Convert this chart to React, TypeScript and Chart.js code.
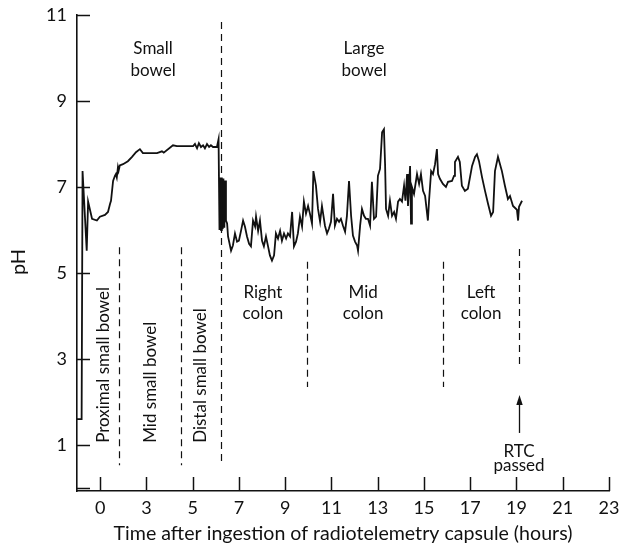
import React, { useEffect, useRef } from "react";
import { Chart, registerables } from "chart.js";

Chart.register(...registerables);

// ---- data (hours after ingestion on a linear axis, pH) ----
const phHours = [
  0.0, 0.2, 0.24, 0.42, 0.48, 0.65, 0.86, 0.99, 1.21, 1.34, 1.43, 1.47, 1.56, 1.64, 1.68, 1.72, 1.77, 1.8, 1.85,
  1.99, 2.2, 2.38, 2.55, 2.72, 2.85, 3.37, 3.46, 3.67, 3.75, 4.15, 4.32, 5.02, 5.1, 5.19, 5.27, 5.36, 5.45, 5.53,
  5.62, 5.71, 5.79, 5.88, 6.05, 6.12, 6.16, 6.2, 6.23, 6.26, 6.3, 6.33, 6.37, 6.4, 6.44, 6.49, 6.53, 6.66, 6.74,
  6.83, 6.92, 7.0, 7.09, 7.18, 7.26, 7.35, 7.44, 7.52, 7.61, 7.7, 7.74, 7.83, 7.91, 8.0, 8.08, 8.17, 8.26, 8.34,
  8.43, 8.52, 8.6, 8.69, 8.78, 8.86, 8.95, 9.04, 9.12, 9.21, 9.3, 9.38, 9.47, 9.55, 9.64, 9.73, 9.81, 9.9, 9.99,
  10.07, 10.16, 10.22, 10.33, 10.42, 10.51, 10.59, 10.72, 10.81, 10.89, 10.98, 11.07, 11.15, 11.24, 11.33, 11.41,
  11.5, 11.59, 11.67, 11.76, 11.85, 11.93, 12.02, 12.11, 12.15, 12.24, 12.32, 12.41, 12.49, 12.58, 12.67, 12.75,
  12.84, 12.93, 13.01, 13.1, 13.19, 13.27, 13.32, 13.36, 13.45, 13.53, 13.62, 13.71, 13.79, 13.88, 13.96, 14.05,
  14.14, 14.2, 14.27, 14.31, 14.4, 14.44, 14.48, 14.57, 14.7, 14.79, 14.87, 14.96, 15.05, 15.17, 15.22, 15.31,
  15.39, 15.48, 15.56, 15.61, 15.69, 15.82, 15.95, 16.04, 16.21, 16.3, 16.34, 16.47, 16.55, 16.64, 16.77, 16.9,
  17.08, 17.21, 17.29, 17.38, 17.51, 17.64, 17.77, 17.9, 17.99, 18.07, 18.2, 18.37, 18.5, 18.63, 18.72, 18.85,
  19.02, 19.07, 19.11, 19.24,
];
const phValues = [
  1.6, 1.6, 7.37, 5.52, 6.66, 6.26, 6.22, 6.31, 6.35, 6.42, 6.61, 6.68, 7.14, 7.26, 7.3, 7.22, 7.46, 7.38, 7.5,
  7.53, 7.6, 7.7, 7.81, 7.88, 7.79, 7.79, 7.79, 7.83, 7.8, 7.97, 7.95, 7.95, 8.0, 7.9, 8.02, 7.93, 7.97, 7.9,
  8.0, 7.93, 7.97, 7.93, 7.93, 8.11, 6.0, 7.22, 6.0, 7.22, 6.02, 7.2, 6.05, 7.15, 6.22, 6.15, 5.85, 5.52, 5.64,
  5.92, 5.73, 5.75, 5.98, 6.22, 6.08, 5.85, 5.68, 5.62, 6.22, 6.08, 6.31, 5.98, 6.22, 5.75, 5.62, 5.85, 5.62, 5.41,
  5.29, 5.41, 5.92, 5.8, 5.98, 5.75, 5.92, 5.8, 5.92, 5.85, 6.42, 5.62, 5.73, 5.92, 6.31, 6.08, 6.66, 6.38, 6.56,
  6.38, 6.15, 7.37, 7.03, 6.49, 6.19, 6.56, 6.1, 5.92, 6.03, 6.19, 6.84, 6.1, 6.26, 6.19, 6.26,
  6.1, 5.96, 6.33, 7.14, 6.33, 5.87, 5.73, 5.64, 5.52, 6.1, 6.49, 6.33, 6.26, 6.26, 6.1, 7.12,
  6.26, 6.31, 7.26, 7.42, 8.27, 8.34, 7.51, 6.49, 6.33, 6.68, 6.33, 6.42, 6.26, 6.66, 6.72, 6.66,
  7.03, 6.68, 7.3, 6.56, 7.49, 6.15, 7.0, 6.84, 7.3, 7.07, 7.3, 6.91, 6.79, 6.22, 6.68, 7.37,
  7.3, 7.53, 7.88, 7.3, 7.19, 7.07, 7.0, 7.12, 7.14, 7.26, 7.58, 7.7, 7.58, 7.03, 6.91, 6.96,
  7.49, 7.7, 7.76, 7.6, 7.23, 6.91, 6.61, 6.33, 6.42, 7.37, 7.7, 7.37, 7.03, 6.72, 6.79, 6.56,
  6.47, 6.22, 6.54, 6.68,
];

const xTickValues = [1, 3, 5, 7, 9, 11, 13, 15, 17, 19, 21, 23];
const xTickLabels = ["0", "3", "5", "7", "9", "11", "13", "15", "17", "19", "21", "23"];
const yTickValues = [0, 1, 3, 5, 7, 9, 11];
const yTickLabels = ["", "1", "3", "5", "7", "9", "11"];

const xTitle = "Time after ingestion of radiotelemetry capsule (hours)";
const yTitle = "pH";

// ---- annotations (data units) ----
const dividerHours = [1.82, 4.5, 6.23, 9.94, 15.82, 19.13];
const dividerTops = [5.6, 5.6, 10.84, 5.26, 5.26, 5.56];
const dividerBottoms = [0.53, 0.53, 0.53, 2.35, 2.35, 2.79];

const regionTexts = ["Small", "bowel", "Large", "bowel", "Right", "colon", "Mid", "colon", "Left", "colon", "RTC", "passed"];
const regionTextHours = [3.29, 3.29, 12.41, 12.41, 8.04, 8.04, 12.37, 12.37, 17.47, 17.47, 19.11, 19.11];
const regionTextPh = [10.09, 9.58, 10.09, 9.58, 4.42, 3.93, 4.42, 3.93, 4.42, 3.93, 0.72, 0.4];

const segmentTexts = ["Proximal small bowel", "Mid small bowel", "Distal small bowel"];
const segmentTextHours = [1.14, 3.16, 5.32];
const segmentTextStartPh = 1.05;

const arrowHour = 19.13;
const arrowFromPh = 1.28;
const arrowToPh = 2.16;

const FONT = "Lato, 'Noto Sans', sans-serif";
const INK = "#111";

const overlay = {
  id: "overlay",
  afterDatasetsDraw(chart: any) {
    const { ctx, chartArea } = chart;
    const x = chart.scales.x;
    const y = chart.scales.y;
    ctx.save();
    ctx.strokeStyle = INK;
    ctx.fillStyle = INK;
    ctx.lineWidth = 1.5;
    // inward tick marks
    x.ticks.forEach((t: any) => {
      const px = Math.round(x.getPixelForValue(t.value)) + 0.5;
      ctx.beginPath();
      ctx.moveTo(px, chartArea.bottom);
      ctx.lineTo(px, chartArea.bottom - 14);
      ctx.stroke();
    });
    y.ticks.forEach((t: any) => {
      const py = Math.round(y.getPixelForValue(t.value)) + 0.5;
      ctx.beginPath();
      ctx.moveTo(chartArea.left, py);
      ctx.lineTo(chartArea.left + 13, py);
      ctx.stroke();
    });
    // dashed dividers
    ctx.lineWidth = 1.2;
    ctx.setLineDash([7, 5]);
    dividerHours.forEach((h, i) => {
      const px = Math.round(x.getPixelForValue(h)) + 0.5;
      ctx.beginPath();
      ctx.moveTo(px, y.getPixelForValue(dividerTops[i]));
      ctx.lineTo(px, y.getPixelForValue(dividerBottoms[i]));
      ctx.stroke();
    });
    ctx.setLineDash([]);
    // arrow
    const ax = Math.round(x.getPixelForValue(arrowHour)) + 0.5;
    const ay0 = y.getPixelForValue(arrowFromPh);
    const ay1 = y.getPixelForValue(arrowToPh);
    ctx.lineWidth = 1.3;
    ctx.beginPath();
    ctx.moveTo(ax, ay0);
    ctx.lineTo(ax, ay1 + 8);
    ctx.stroke();
    ctx.beginPath();
    ctx.moveTo(ax, ay1);
    ctx.lineTo(ax - 3.2, ay1 + 10);
    ctx.lineTo(ax + 3.2, ay1 + 10);
    ctx.closePath();
    ctx.fill();
    // region labels
    ctx.font = `17px ${FONT}`;
    ctx.textAlign = "center";
    ctx.textBaseline = "alphabetic";
    regionTexts.forEach((s, i) => {
      ctx.fillText(s, x.getPixelForValue(regionTextHours[i]), y.getPixelForValue(regionTextPh[i]));
    });
    // rotated segment labels
    ctx.textAlign = "left";
    ctx.textBaseline = "middle";
    segmentTexts.forEach((s, i) => {
      ctx.save();
      ctx.translate(x.getPixelForValue(segmentTextHours[i]), y.getPixelForValue(segmentTextStartPh));
      ctx.rotate(-Math.PI / 2);
      ctx.fillText(s, 0, 0);
      ctx.restore();
    });
    // y-axis title
    ctx.font = `20px ${FONT}`;
    ctx.textAlign = "center";
    ctx.textBaseline = "middle";
    ctx.save();
    ctx.translate(chartArea.left - 58, (chartArea.top + chartArea.bottom) / 2 + 9);
    ctx.rotate(-Math.PI / 2);
    ctx.fillText(yTitle, 0, 0);
    ctx.restore();
    ctx.restore();
  },
};

export default function App() {
  const ref = useRef<HTMLCanvasElement | null>(null);
  useEffect(() => {
    if (!ref.current) return;
    const points = phHours.map((h, i) => ({ x: h, y: phValues[i] }));
    const chart = new Chart(ref.current, {
      type: "line",
      data: {
        datasets: [
          {
            data: points,
            borderColor: INK,
            borderWidth: 1.8,
            pointRadius: 0,
            tension: 0,
            fill: false,
          },
        ],
      },
      options: {
        animation: false,
        responsive: false,
        events: [],
        layout: { padding: { top: 15, right: 11, left: 0, bottom: 0 } },
        plugins: { legend: { display: false }, tooltip: { enabled: false } },
        scales: {
          x: {
            type: "linear",
            min: 0,
            max: 23,
            afterBuildTicks: (scale: any) => {
              scale.ticks = xTickValues.map((v) => ({ value: v }));
            },
            afterFit: (scale: any) => {
              scale.height = 56;
              scale.paddingLeft = 0;
              scale.paddingRight = 0;
            },
            grid: { display: false, drawTicks: false },
            border: { display: true, color: INK, width: 1.6 },
            ticks: {
              color: INK,
              padding: 6,
              font: { family: FONT, size: 18 },
              maxRotation: 0,
              autoSkip: false,
              callback: (v: any) => {
                const i = xTickValues.indexOf(Number(v));
                return i >= 0 ? xTickLabels[i] : "";
              },
            },
            title: {
              display: true,
              text: xTitle,
              color: INK,
              font: { family: FONT, size: 19.6 },
              padding: { top: 0, bottom: 2 },
            },
          },
          y: {
            type: "linear",
            min: -0.07,
            max: 11,
            afterBuildTicks: (scale: any) => {
              scale.ticks = yTickValues.map((v) => ({ value: v }));
            },
            afterFit: (scale: any) => {
              scale.width = 77;
              scale.paddingTop = 0;
              scale.paddingBottom = 0;
            },
            grid: { display: false, drawTicks: false },
            border: { display: true, color: INK, width: 1.6 },
            ticks: {
              color: INK,
              padding: 10,
              font: { family: FONT, size: 18 },
              autoSkip: false,
              callback: (v: any) => {
                const i = yTickValues.indexOf(Number(v));
                return i >= 0 ? yTickLabels[i] : "";
              },
            },
          },
        },
      },
      plugins: [overlay],
    });
    return () => chart.destroy();
  }, []);
  return (
    <div style={{ position: "absolute", left: 0, top: 0, width: 620, height: 547, background: "#fff" }}>
      <canvas ref={ref} width={620} height={547} />
    </div>
  );
}
